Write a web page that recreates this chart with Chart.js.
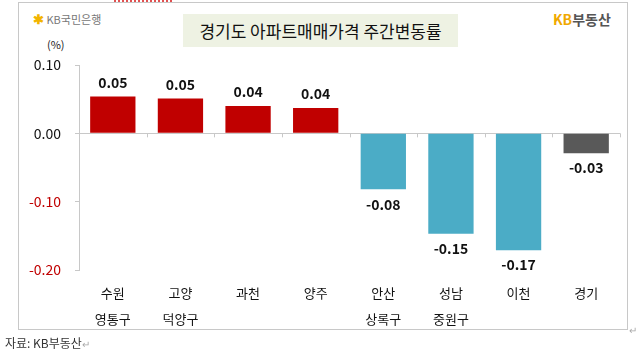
<!DOCTYPE html>
<html>
<head>
<meta charset="utf-8">
<script src="https://cdn.jsdelivr.net/npm/chart.js@4/dist/chart.umd.min.js"></script>
<style>
  body { margin: 0; background: #fff; font-family: "Noto Sans CJK KR", sans-serif; }
  #wrap { position: relative; width: 644px; height: 354px; overflow: hidden; }
  #frame { position: absolute; left: 18px; top: 2px; width: 610px; height: 328px; border: 1px solid #c8c8c8; box-sizing: border-box; }
  #dots { position: absolute; left: 114px; top: 0; width: 58px; height: 0; border-top: 2px dotted #e05050; }
  #title { position: absolute; left: 183px; top: 14px; width: 275px; height: 33px; background: #eef2e3;
           font-size: 17px; line-height: 33px; text-align: center; color: #111; }
  #kbbank { position: absolute; left: 33px; top: 9px; font-size: 11px; color: #777; white-space: nowrap; }
  #kbbank .star { color: #f2b400; font-size: 13px; font-weight: bold; }
  #kbland { position: absolute; left: 553px; top: 9px; font-size: 14px; font-weight: bold; color: #555; white-space: nowrap; }
  #kbland .kb { color: #f0a800; }
  #unit { position: absolute; left: 47px; top: 36px; font-size: 11px; color: #222; }
  #src { position: absolute; left: 5px; top: 334px; font-size: 12px; color: #333; }
  #src .ret, #ret2 { color: #aaa; font-size: 10px; }
  #ret2 { position: absolute; left: 629px; top: 322px; }
  canvas { position: absolute; left: 0; top: 0; }
</style>
</head>
<body>
<div id="wrap">
  <div id="frame"></div>
  <div id="dots"></div>
  <div id="kbbank"><span class="star">✱</span> KB국민은행</div>
  <div id="title">경기도 아파트매매가격 주간변동률</div>
  <div id="kbland"><span class="kb">KB</span>부동산</div>
  <div id="unit">(%)</div>
  <canvas id="chart" width="644" height="354"></canvas>
  <div id="src">자료: KB부동산<span class="ret">↵</span></div>
  <div id="ret2">↵</div>
</div>
<script>
const categories = [['수원', '영통구'], ['고양', '덕양구'], '과천', '양주', ['안산', '상록구'], ['성남', '중원구'], '이천', '경기'];
const changes = [0.054, 0.051, 0.040, 0.037, -0.082, -0.147, -0.171, -0.029];
const barColors = ['#c00000', '#c00000', '#c00000', '#c00000', '#4bacc6', '#4bacc6', '#4bacc6', '#595959'];
const yTicks = [0.10, 0.00, -0.10, -0.20];

const FONT = '"Noto Sans CJK KR", sans-serif';

const valueLabels = {
  id: 'valueLabels',
  afterDatasetsDraw(chart) {
    const ctx = chart.ctx;
    const meta = chart.getDatasetMeta(0);
    ctx.save();
    ctx.font = 'bold 14px ' + FONT;
    ctx.fillStyle = '#111';
    ctx.textAlign = 'center';
    meta.data.forEach((bar, i) => {
      const v = changes[i];
      if (v >= 0) {
        ctx.textBaseline = 'bottom';
        ctx.fillText(v.toFixed(2), bar.x, bar.y - 7);
      } else {
        ctx.textBaseline = 'top';
        ctx.fillText(v.toFixed(2), bar.x, bar.y + 8);
      }
    });
    ctx.restore();
  }
};

// little category ticks hanging from the zero line
const zeroTicks = {
  id: 'zeroTicks',
  afterDraw(chart) {
    const ctx = chart.ctx;
    const y0 = chart.scales.y.getPixelForValue(0);
    const step = (chart.chartArea.right - chart.chartArea.left) / categories.length;
    ctx.save();
    ctx.strokeStyle = '#c8c8c8';
    ctx.lineWidth = 1;
    for (let i = 1; i <= categories.length; i++) {
      const px = Math.round(chart.chartArea.left + step * i) + 0.5;
      ctx.beginPath();
      ctx.moveTo(px, y0);
      ctx.lineTo(px, y0 + 4);
      ctx.stroke();
    }
    ctx.restore();
  }
};

new Chart(document.getElementById('chart'), {
  type: 'bar',
  data: {
    labels: categories,
    datasets: [{
      data: changes,
      backgroundColor: barColors,
      borderWidth: 0,
      barPercentage: 0.67,
      categoryPercentage: 1
    }]
  },
  options: {
    responsive: false,
    animation: false,
    layout: { padding: { left: 0, right: 24, top: 65, bottom: 24 } },
    plugins: { legend: { display: false }, tooltip: { enabled: false } },
    scales: {
      x: {
        grid: { display: false },
        border: { display: false },
        ticks: {
          color: '#111',
          font: { family: FONT, size: 13, lineHeight: 2 },
          padding: 2,
          maxRotation: 0,
          autoSkip: false
        },
        afterFit(scale) { scale.height = 60; }
      },
      y: {
        min: -0.2,
        max: 0.1,
        afterBuildTicks(scale) { scale.ticks = yTicks.map(v => ({ value: v })); },
        border: { display: true, color: '#c8c8c8' },
        grid: {
          drawOnChartArea: true,
          color: c => (c.tick && c.tick.value === 0 ? '#c8c8c8' : 'rgba(0,0,0,0)'),
          tickColor: '#c8c8c8',
          tickLength: 4
        },
        ticks: {
          padding: 14,
          font: { family: FONT, size: 14 },
          color: c => (c.tick.value < 0 ? '#c00000' : '#111'),
          callback: v => v.toFixed(2)
        },
        afterFit(scale) { scale.width = 79; }
      }
    }
  },
  plugins: [valueLabels, zeroTicks]
});
</script>
</body>
</html>
